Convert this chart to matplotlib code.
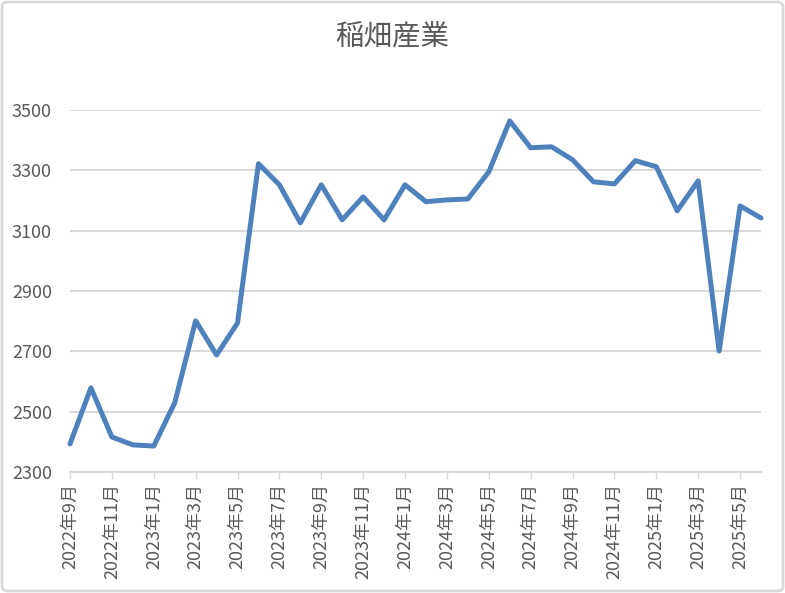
import matplotlib
matplotlib.use("Agg")
import matplotlib.pyplot as plt
from matplotlib.patches import FancyBboxPatch

plt.rcParams['font.family'] = ['Noto Sans CJK JP', 'DejaVu Sans']

title = "稲畑産業"
months = ["2022年9月", "2022年10月", "2022年11月", "2022年12月",
          "2023年1月", "2023年2月", "2023年3月", "2023年4月", "2023年5月", "2023年6月",
          "2023年7月", "2023年8月", "2023年9月", "2023年10月", "2023年11月", "2023年12月",
          "2024年1月", "2024年2月", "2024年3月", "2024年4月", "2024年5月", "2024年6月",
          "2024年7月", "2024年8月", "2024年9月", "2024年10月", "2024年11月", "2024年12月",
          "2025年1月", "2025年2月", "2025年3月", "2025年4月", "2025年5月", "2025年6月"]
values = [2393, 2579, 2416, 2390, 2386, 2529, 2801, 2688, 2794, 3322,
          3252, 3126, 3252, 3136, 3212, 3136, 3252, 3196, 3202, 3205,
          3295, 3464, 3375, 3378, 3335, 3262, 3255, 3332, 3312, 3166,
          3265, 2701, 3182, 3142]
yticks = [2300, 2500, 2700, 2900, 3100, 3300, 3500]

W, H = 785, 593
fig = plt.figure(figsize=(W / 100, H / 100), dpi=100)
ax = fig.add_axes([70 / W, 1 - 472 / H, (761 - 70) / W, (472 - 110) / H])

x = list(range(len(values)))
ax.plot(x, values, color='#4F81BD', linewidth=3.6, solid_joinstyle='round',
        solid_capstyle='round', zorder=3, clip_on=False)

ax.set_xlim(0, len(values) - 1)
ax.set_ylim(2300, 3500)
ax.set_yticks(yticks)
ax.set_yticklabels([str(v) for v in yticks], color='#595959', fontsize=13)
ax.set_xticks(x[::2])
ax.set_xticklabels(months[::2], rotation=90, color='#595959', fontsize=13)
ax.tick_params(axis='y', length=0, pad=13)
ax.tick_params(axis='x', length=5, width=1, color='#D9D9D9', pad=3)

ax.grid(axis='y', color='#D9D9D9', linewidth=1.5)
ax.set_axisbelow(True)
for s in ['top', 'right', 'left']:
    ax.spines[s].set_visible(False)
ax.spines['bottom'].set_color('#D9D9D9')
ax.spines['bottom'].set_linewidth(1.5)

fig.text(392 / W, 1 - 37 / H, title, ha='center', va='center', fontsize=20.5, color='#595959')

border = FancyBboxPatch((2 / W, 2 / H), 1 - 4 / W, 1 - 4 / H,
                        boxstyle="round,pad=0,rounding_size=0.008",
                        transform=fig.transFigure, facecolor='none',
                        edgecolor='#D9D9D9', linewidth=2)
fig.patches.append(border)

fig.savefig("out.png", dpi=100)
